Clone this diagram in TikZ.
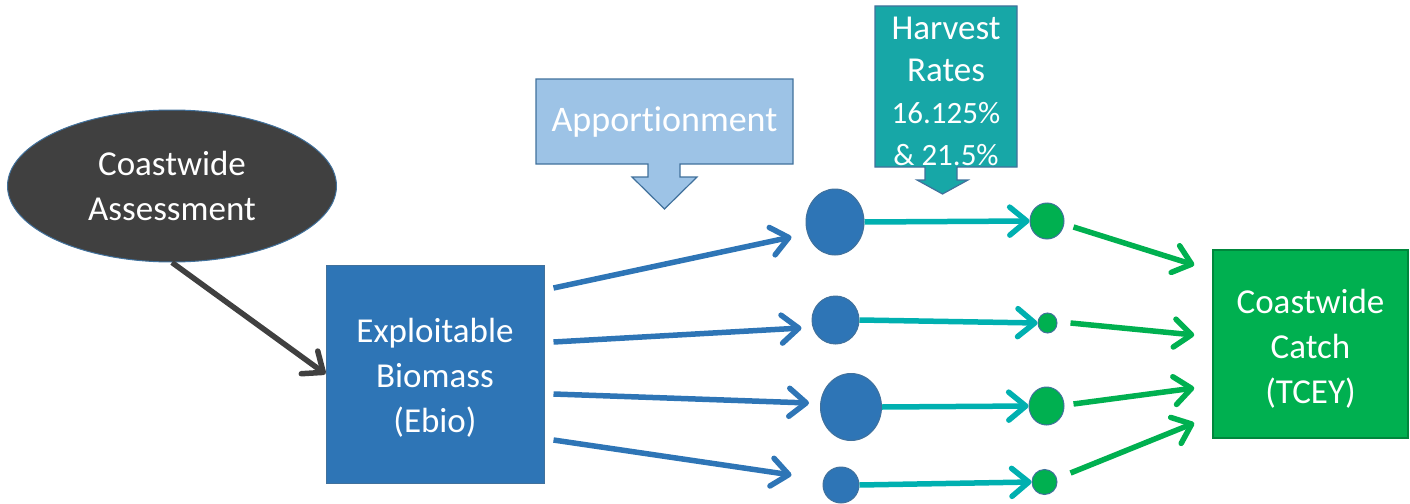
\documentclass[tikz,border=0pt]{standalone}
\usepackage{fontspec}
\setmainfont[Ligatures=NoCommon]{Carlito}
\usetikzlibrary{arrows.meta,calc,shapes.geometric}

\definecolor{assessgrey}{HTML}{404040}
\definecolor{ebioblue}{HTML}{2E75B6}
\definecolor{edgeblue}{HTML}{41719C}
\definecolor{apportblue}{HTML}{9DC3E6}
\definecolor{harvestteal}{HTML}{17A7A7}
\definecolor{flowteal}{HTML}{00B0B0}
\definecolor{catchgreen}{HTML}{00B050}
\definecolor{catchedge}{HTML}{00873C}

\begin{document}
\begin{tikzpicture}[x=1pt,y=-1pt,
  lbl/.style={text=white, font=\fontsize{35}{45}\selectfont, align=center},
  flow/.style={line width=5.5pt, -{Straight Barb[length=17pt,width=28pt,round]}},
  stock/.style={ellipse, fill=ebioblue, draw=edgeblue, line width=1pt, inner sep=0pt},
  catchdot/.style={ellipse, fill=catchgreen, draw=edgeblue, line width=1pt, inner sep=0pt},
  callout/.style={draw=edgeblue, line width=1.2pt}]

\path[use as bounding box] (0,0) rectangle (1410,503);

% inputs
\node[ellipse, fill=assessgrey, draw=edgeblue, line width=1pt,
      minimum width=329pt, minimum height=152pt, inner sep=0pt, lbl]
      (assess) at (172,186) {Coastwide\\Assessment};

\node[rectangle, fill=ebioblue, draw=edgeblue, line width=1pt,
      minimum width=218pt, minimum height=218pt, inner sep=0pt]
      (ebio) at (435,374) {};
\node[lbl] (ebiotext) at ($(ebio.center)+(0,4)$) {Exploitable\\Biomass\\(Ebio)};

\node[rectangle, fill=catchgreen, draw=catchedge, line width=1.5pt,
      minimum width=195pt, minimum height=188pt, inner sep=0pt]
      (catch) at (1310.5,344) {};
\node[lbl] (catchtext) at ($(catch.center)+(0,5)$) {Coastwide\\Catch\\(TCEY)};

% apportionment callout
\filldraw[callout, fill=apportblue]
  (536,79) -- (793,79) -- (793,164) -- (680,164) -- (680,177) -- (697,177)
  -- (664.5,209) -- (632,177) -- (648,177) -- (648,164) -- (536,164) -- cycle;
\node[lbl, font=\fontsize{36}{45}\selectfont] (apport) at (664.5,122) {Apportionment};

% harvest rate callout
\filldraw[callout, fill=harvestteal]
  (875,6) -- (1017,6) -- (1017,167) -- (957,167) -- (957,180) -- (968,180)
  -- (942.5,194) -- (917,180) -- (925,180) -- (925,167) -- (875,167) -- cycle;
\node[lbl, font=\fontsize{35}{42}\selectfont] (harvest) at (946,91)
  {Harvest\\Rates\\{\fontsize{31}{42}\selectfont 16.125\%}\\{\fontsize{31}{42}\selectfont \& 21.5\%}};

% regional biomass
\node[stock, minimum width=58pt, minimum height=66pt] (c1) at (835,222) {};
\node[stock, minimum width=47pt, minimum height=48pt] (c2) at (835.5,320) {};
\node[stock, minimum width=61pt, minimum height=67pt] (c3) at (851,407) {};
\node[stock, minimum width=36pt, minimum height=36pt] (c4) at (841,485) {};

% regional catch
\node[catchdot, minimum width=34pt, minimum height=36pt] (g1) at (1047,221) {};
\node[catchdot, minimum width=19pt, minimum height=20pt] (g2) at (1047.5,323) {};
\node[catchdot, minimum width=35pt, minimum height=38pt] (g3) at (1046.5,406) {};
\node[catchdot, minimum width=25pt, minimum height=25pt] (g4) at (1044.5,482) {};

% assessment to biomass
\draw[flow, assessgrey] (assess.south) -- (ebio.west);

% biomass to regions
\draw[flow, ebioblue] ($(ebio.east)+(9,-86)$) -- ($(c1.west)+(-14,15)$);
\draw[flow, ebioblue] ($(ebio.east)+(9,-32)$) -- ($(c2.west)+(-10,8)$);
\draw[flow, ebioblue] ($(ebio.east)+(9,20)$)  -- ($(c3.west)+(-11,-4)$);
\draw[flow, ebioblue] ($(ebio.east)+(9,66)$)  -- ($(c4.west)+(-31,-10)$);

% harvest rates applied
\draw[flow, flowteal] (c1.east) -- (g1.west);
\draw[flow, flowteal] (c2.east) -- (g2.west);
\draw[flow, flowteal] (c3.east) -- (g3.west);
\draw[flow, flowteal] (c4.east) -- (g4.west);

% regional catch summed
\draw[flow, catchgreen] ($(g1.east)+(9,6)$)   -- ($(catch.west)+(-18,-79)$);
\draw[flow, catchgreen] ($(g2.east)+(13,0)$)  -- ($(catch.west)+(-18,-9)$);
\draw[flow, catchgreen] ($(g3.east)+(9,-2)$)  -- ($(catch.west)+(-18,44)$);
\draw[flow, catchgreen] ($(g4.east)+(13,-9)$) -- ($(catch.west)+(-18,79)$);

\end{tikzpicture}
\end{document}
